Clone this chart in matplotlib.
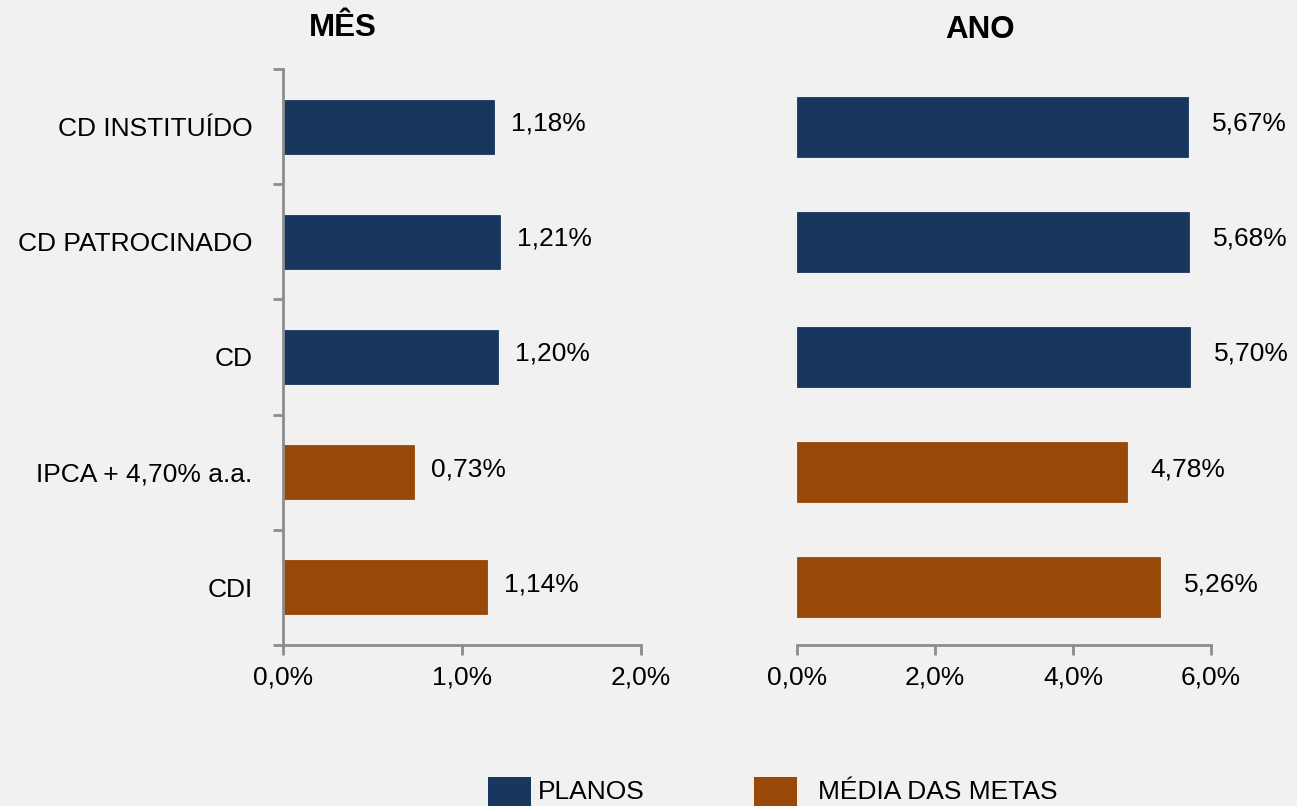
import matplotlib
matplotlib.use("Agg")
import matplotlib.pyplot as plt
from matplotlib.patches import Rectangle
import numpy as np

plt.rcParams['font.family'] = ['Liberation Sans', 'DejaVu Sans']

categories = ["CD INSTITUÍDO", "CD PATROCINADO", "CD", "IPCA + 4,70% a.a.", "CDI"]
mes_values = [1.18, 1.21, 1.20, 0.73, 1.14]
ano_values = [5.67, 5.68, 5.70, 4.78, 5.26]
groups = ["PLANOS", "PLANOS", "PLANOS", "MÉDIA DAS METAS", "MÉDIA DAS METAS"]
mes_ticks = [0.0, 1.0, 2.0]
ano_ticks = [0.0, 2.0, 4.0, 6.0]
legend_labels = ["PLANOS", "MÉDIA DAS METAS"]

NAVY = "#17375E"
BROWN = "#984807"
colors = {"PLANOS": NAVY, "MÉDIA DAS METAS": BROWN}
bar_colors = [colors[g] for g in groups]
BG = "#f1f1f2"
SPINE = "#8c8c8c"
FS = 19

def fmt(v, d):
    return (f"{v:.{d}f}").replace(".", ",") + "%"

fig = plt.figure(figsize=(12.97, 8.06), dpi=100, facecolor=BG)

ax1 = fig.add_axes([283/1297, 161/806, 358/1297, 576/806])
ax2 = fig.add_axes([797/1297, 161/806, 414/1297, 576/806])

y = np.arange(len(categories))

for ax, vals, ticks, xmax, h, off in [(ax1, mes_values, mes_ticks, 2.0, 0.47, 17),
                                      (ax2, ano_values, ano_ticks, 6.0, 0.52, 24)]:
    ax.set_facecolor("none")
    ax.barh(y, vals, height=h, color=bar_colors, edgecolor=bar_colors, linewidth=0.6)
    ax.set_ylim(len(categories) - 0.5, -0.5)
    ax.set_xlim(0, xmax)
    ax.set_xticks(ticks)
    ax.set_xticklabels([fmt(t, 1) for t in ticks], fontsize=FS)
    for s in ["top", "right"]:
        ax.spines[s].set_visible(False)
    ax.spines["bottom"].set_color(SPINE)
    ax.spines["bottom"].set_linewidth(2)
    ax.tick_params(axis="x", length=7, width=2, color=SPINE, pad=8)
    for yi, v in zip(y, vals):
        ax.annotate(fmt(v, 2), (v, yi), xytext=(off, 3), textcoords="offset pixels",
                    ha="left", va="center", fontsize=FS, color="black")

# left panel y axis
ax1.spines["left"].set_color(SPINE)
ax1.spines["left"].set_linewidth(2)
ax1.set_yticks(y)
ax1.set_yticklabels(categories, fontsize=FS)
ax1.tick_params(axis="y", which="major", length=0, pad=22)
ax1.set_yticks(np.arange(-0.5, len(categories), 1.0), minor=True)
ax1.tick_params(axis="y", which="minor", length=7, width=2, color=SPINE)

# right panel: no y axis
ax2.spines["left"].set_visible(False)
ax2.set_yticks([])

fig.text(343/1297, 1 - 28/806, "MÊS", ha="center", va="center", fontsize=22.5, fontweight="bold")
fig.text(980/1297, 1 - 30/806, "ANO", ha="center", va="center", fontsize=22.5, fontweight="bold")

# legend
for x0, tx, lab in [(488, 538, legend_labels[0]), (754, 818, legend_labels[1])]:
    fig.patches.append(Rectangle((x0/1297, -0.01), 43/1297, (806-777)/806 + 0.01,
                                 transform=fig.transFigure, facecolor=colors[lab], edgecolor="none"))
    fig.text(tx/1297, 1 - 792/806, lab, ha="left", va="center", fontsize=FS)

fig.savefig("out.png", dpi=100, facecolor=BG)
